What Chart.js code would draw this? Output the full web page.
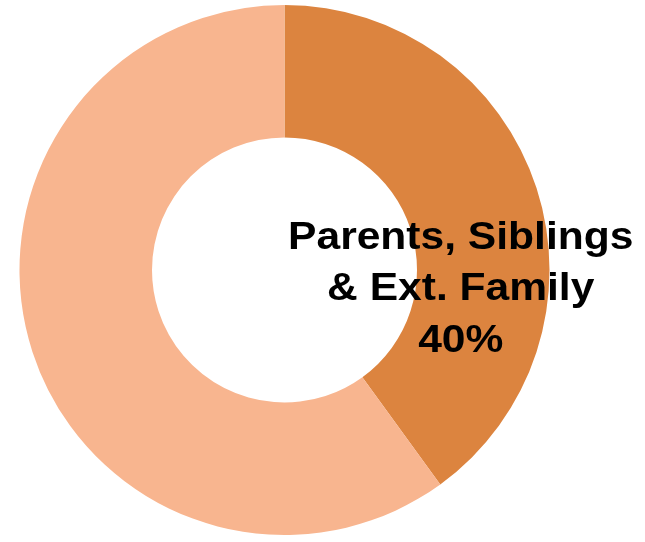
<!DOCTYPE html>
<html lang="en">
<head>
    <meta charset="UTF-8">
    <title>Doughnut</title>
    <script src="https://cdn.jsdelivr.net/npm/chart.js"></script>
    <style>
        html, body {
            margin: 0;
            padding: 0;
            background: #fff;
        }
        .wrap {
            width: 645px;
            height: 542px;
        }
    </style>
</head>
<body>
    <div class="wrap"><canvas id="chart" width="645" height="542"></canvas></div>
    <script>
        const categories = ['Parents, Siblings & Ext. Family', 'Other'];
        const values = [40, 60];
        const labelLines = [['Parents, Siblings', '& Ext. Family', '40%'], []];
        const colors = ['#DC843F', '#F8B58F'];

        // draws the text label for the first slice, placed relative to the ring
        const sliceLabels = {
            id: 'sliceLabels',
            afterDatasetsDraw(chart) {
                const ctx = chart.ctx;
                const arcs = chart.getDatasetMeta(0).data;
                ctx.save();
                ctx.font = 'bold 38px "Liberation Sans", Arial, sans-serif';
                ctx.fillStyle = '#000';
                ctx.textAlign = 'center';
                ctx.textBaseline = 'alphabetic';
                arcs.forEach((arc, i) => {
                    const lines = labelLines[i];
                    if (!lines.length) return;
                    const R = arc.outerRadius;
                    const x = arc.x + 0.665 * R;
                    const y0 = arc.y - 0.08 * R;
                    lines.forEach((t, j) => {
                        ctx.save();
                        ctx.translate(x, y0 + j * 51.5);
                        ctx.scale(1.12, 1); // the original text is a little wide
                        ctx.fillText(t, 0, 0);
                        ctx.restore();
                    });
                });
                ctx.restore();
            }
        };

        new Chart(document.getElementById('chart'), {
            type: 'doughnut',
            data: {
                labels: categories,
                datasets: [{
                    data: values,
                    backgroundColor: colors,
                    borderWidth: 0
                }]
            },
            options: {
                responsive: false,
                animation: false,
                cutout: '50%',
                layout: { padding: { left: 19, right: 95, top: 5, bottom: 7 } },
                plugins: {
                    legend: { display: false },
                    tooltip: { enabled: false }
                }
            },
            plugins: [sliceLabels]
        });
    </script>
</body>
</html>
